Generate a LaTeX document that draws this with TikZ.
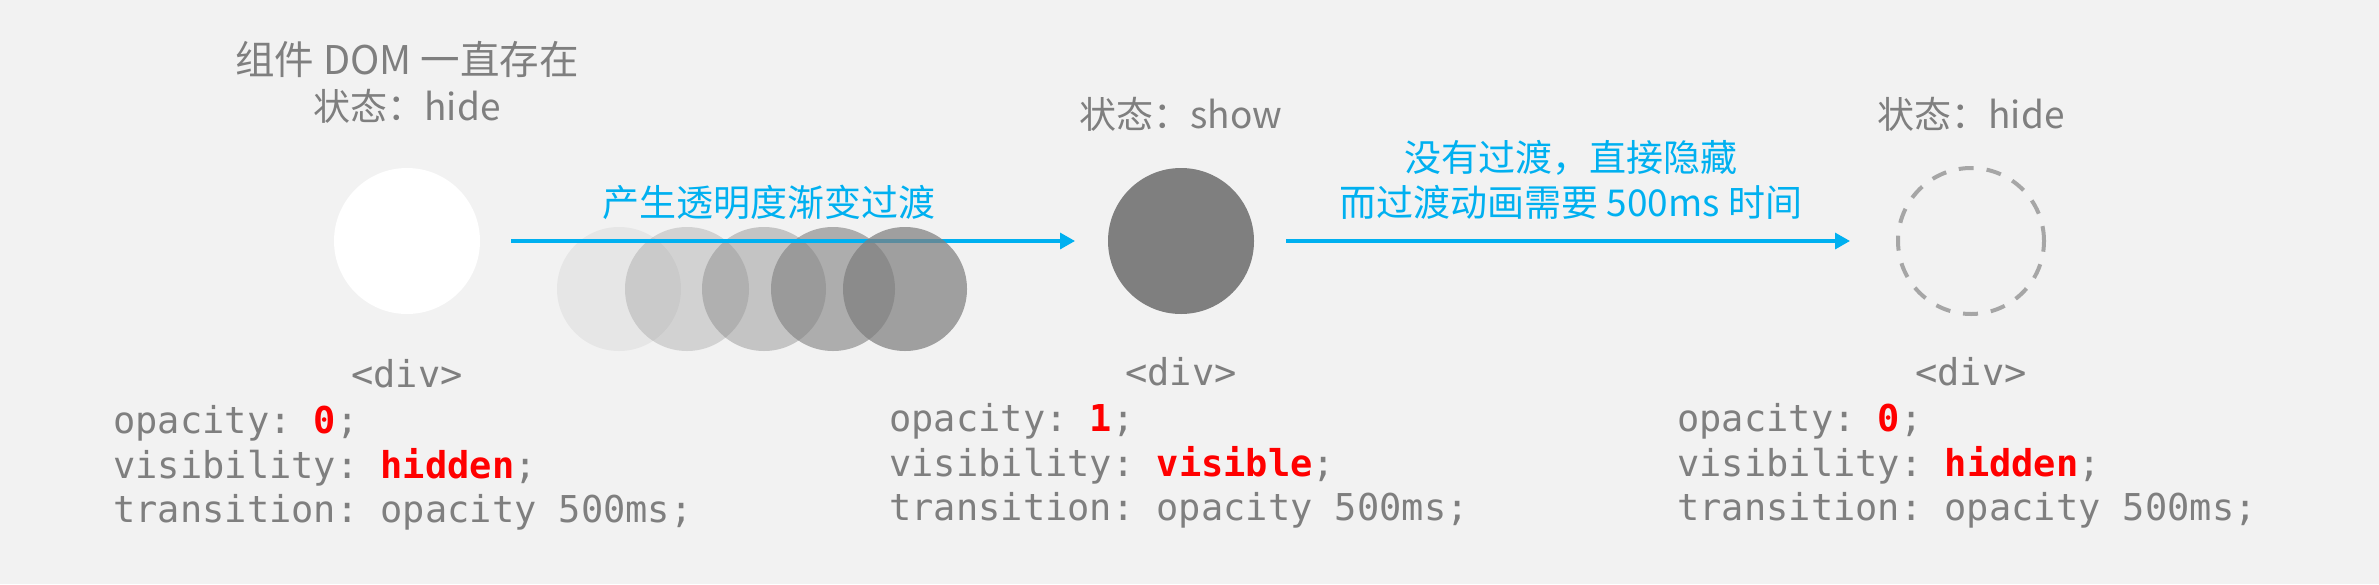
\documentclass[tikz,border=0pt]{standalone}
\usepackage{fontspec}
\setmainfont{Noto Sans CJK SC}
\setmonofont{DejaVu Sans Mono}
\usetikzlibrary{arrows.meta, positioning}

\definecolor{bggray}{HTML}{F2F2F2}
\definecolor{textgray}{HTML}{7F7F7F}
\definecolor{showgray}{HTML}{7F7F7F}
\definecolor{dashgray}{HTML}{A6A6A6}
\definecolor{flowblue}{HTML}{00B0F0}
\definecolor{codered}{HTML}{FF0000}

\newcommand{\cssval}[1]{\textcolor{codered}{\bfseries #1}}

\begin{document}
\begin{tikzpicture}[
    x=1pt, y=-1pt,
    state/.style={circle, inner sep=0pt, outer sep=0pt, minimum size=146pt},
    fade/.style={circle, inner sep=0pt, outer sep=0pt, minimum size=124pt,
    fill=showgray},
    status/.style={text=textgray, inner sep=0pt, text height=30pt,
    text depth=8pt, font=\fontsize{37}{46}\selectfont},
    tag/.style={text=textgray, inner sep=0pt, text height=27pt,
    text depth=8pt, font=\ttfamily\fontsize{37}{44.5}\selectfont},
    code/.style={text=textgray, inner sep=0pt, align=left,
    font=\ttfamily\fontsize{37}{44.5}\selectfont},
    flow/.style={draw=flowblue, line width=3.3pt,
    -{Triangle[length=15pt, width=16pt]}},
    flowlabel/.style={text=flowblue, inner sep=0pt, align=center,
    font=\fontsize{37}{45}\selectfont}
    ]
    \useasboundingbox[fill=bggray] (0,0) rectangle (2379,584);

    \node[state, fill=white]    (hide1) at (407,241)  {};
    \node[state, fill=showgray] (show)  at (1181,241) {};
    \node[state, draw=dashgray, line width=4pt,
      dash pattern=on 15pt off 13pt] (hide2) at (1971,241) {};

    \node[status] (st1)  [above=39pt of hide1] {状态：hide};
    \node[status, font=\fontsize{39.5}{46}\selectfont] (dom)
      [above=8pt of st1] {组件 DOM 一直存在};
    \node[status] (st2)  [above=31pt of show]  {状态：show};
    \node[status] (st3)  [above=31pt of hide2] {状态：hide};

    \node[tag]  (div1) [below=46pt of hide1] {<div>};
    \node[tag]  (div2) [below=44pt of show]  {<div>};
    \node[tag]  (div3) [below=44pt of hide2] {<div>};

    \node[code] (css1) [below=10pt of div1, xshift=-4pt]
      {opacity: \cssval{0};\\visibility: \cssval{hidden};\\transition: opacity 500ms;};
    \node[code] (css2) [below=10pt of div2, xshift=-2pt]
      {opacity: \cssval{1};\\visibility: \cssval{visible};\\transition: opacity 500ms;};
    \node[code] (css3) [below=10pt of div3, xshift=-4pt]
      {opacity: \cssval{0};\\visibility: \cssval{hidden};\\transition: opacity 500ms;};

    % fading steps
    \foreach \cx/\op [count=\i] in {619/0.1, 687/0.27, 764/0.4, 833/0.6}
      \node[fade, fill opacity=\op] (fade\i) at (\cx,289) {};

    \draw[flow, shorten <=31pt, shorten >=33pt] (hide1) --
      node[flowlabel, pos=0.46, above=20pt] (fadelbl) {产生透明度渐变过渡} (show);
    \draw[flow, shorten <=32pt, shorten >=48pt] (show) --
      node[flowlabel, pos=0.492, above=20pt] (hidelbl)
      {没有过渡，直接隐藏\\而过渡动画需要 500ms 时间} (hide2);

    \node[fade, fill opacity=0.72] (fade5) at (905,289) {};
\end{tikzpicture}
\end{document}
